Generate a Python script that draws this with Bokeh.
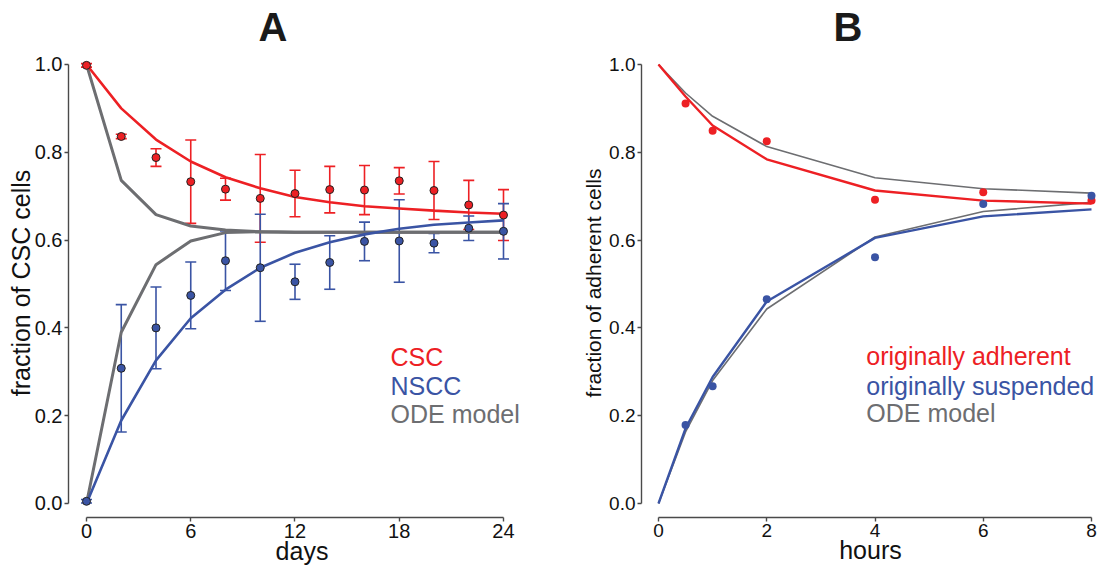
from bokeh.plotting import figure
from bokeh.layouts import row
from bokeh.models import ColumnDataSource, Whisker, TeeHead, FixedTicker, Range1d
from bokeh.embed import file_html
from bokeh.resources import INLINE
from bokeh.core.properties import value

RED = "#ED2024"
BLUE = "#3A54A4"
GREY = "#6D6E71"
AXC = "#4a4a4a"
FONT = "Liberation Sans"

# ---------------- Panel A data ----------------
days = [0, 2, 4, 6, 8, 10, 12, 14, 16, 18, 20, 22, 24]
csc_mean = [0.998, 0.836, 0.788, 0.733, 0.716, 0.695, 0.706, 0.715, 0.714, 0.735, 0.713, 0.680, 0.657]
csc_err = [0.004, 0.005, 0.020, 0.095, 0.025, 0.100, 0.053, 0.053, 0.056, 0.030, 0.066, 0.056, 0.058]
nscc_mean = [0.005, 0.308, 0.400, 0.474, 0.553, 0.537, 0.505, 0.549, 0.597, 0.598, 0.593, 0.627, 0.620]
nscc_err = [0.004, 0.145, 0.093, 0.076, 0.068, 0.122, 0.040, 0.061, 0.044, 0.094, 0.022, 0.028, 0.063]
csc_fit = [1.0, 0.900, 0.829, 0.779, 0.743, 0.718, 0.698, 0.686, 0.677, 0.672, 0.667, 0.663, 0.660]
nscc_fit = [0.0, 0.189, 0.326, 0.422, 0.487, 0.537, 0.571, 0.595, 0.613, 0.626, 0.635, 0.640, 0.645]
ode_a_upper = [1.0, 0.736, 0.658, 0.632, 0.623, 0.619, 0.618, 0.618, 0.618, 0.618, 0.618, 0.618, 0.618]
ode_a_lower = [0.0, 0.390, 0.544, 0.598, 0.617, 0.619, 0.618, 0.618, 0.618, 0.618, 0.618, 0.618, 0.618]
a_xticks = [0, 6, 12, 18, 24]
a_yticks = [0.0, 0.2, 0.4, 0.6, 0.8, 1.0]
a_ytick_labels = ["0.0", "0.2", "0.4", "0.6", "0.8", "1.0"]
a_legend_labels = ["CSC", "NSCC", "ODE model"]

# ---------------- Panel B data ----------------
hours_obs = [0.5, 1, 2, 4, 6, 8]
adh_obs = [0.911, 0.849, 0.825, 0.692, 0.709, 0.690]
sus_obs = [0.179, 0.267, 0.465, 0.561, 0.682, 0.701]
hours_fit = [0, 0.5, 1, 2, 4, 6, 8]
adh_fit = [1.0, 0.927, 0.861, 0.784, 0.713, 0.690, 0.683]
sus_fit = [0.0, 0.171, 0.288, 0.460, 0.605, 0.654, 0.670]
ode_b_upper = [1.0, 0.935, 0.882, 0.813, 0.742, 0.717, 0.707]
ode_b_lower = [0.0, 0.163, 0.280, 0.443, 0.607, 0.665, 0.686]
b_xticks = [0, 2, 4, 6, 8]
b_yticks = [0.0, 0.2, 0.4, 0.6, 0.8, 1.0]
b_ytick_labels = ["0.0", "0.2", "0.4", "0.6", "0.8", "1.0"]
b_legend_labels = ["originally adherent", "originally suspended", "ODE model"]


def style(p, xticks, yticks, ytick_labels, xbounds, xlabel, ylabel,
          ylabel_size, tick_size, ylabel_standoff):
    p.xgrid.visible = False
    p.ygrid.visible = False
    p.outline_line_color = None
    p.background_fill_color = "white"
    p.border_fill_color = "white"
    xa = p.xaxis[0]
    ya = p.yaxis[0]
    xa.ticker = FixedTicker(ticks=xticks)
    ya.ticker = FixedTicker(ticks=yticks)
    ya.major_label_overrides = {t: l for t, l in zip(yticks, ytick_labels)}
    xa.bounds = xbounds
    ya.bounds = (0, 1)
    for ax in (xa, ya):
        ax.axis_line_color = AXC
        ax.axis_line_width = 1.4
        ax.major_tick_line_color = AXC
        ax.major_tick_line_width = 1.4
        ax.major_tick_out = 4
        ax.major_tick_in = 0
        ax.minor_tick_out = 0
        ax.minor_tick_in = 0
        ax.major_label_text_font = FONT
        ax.major_label_text_font_size = tick_size
        ax.major_label_text_color = "#111111"
        ax.major_label_standoff = 2
        ax.axis_label_text_font = FONT
        ax.axis_label_text_font_style = "normal"
        ax.axis_label_text_color = "#111111"
    xa.axis_label = xlabel
    ya.axis_label = ylabel
    xa.axis_label_text_font_size = "25px"
    ya.axis_label_text_font_size = ylabel_size
    xa.axis_label_standoff = -4
    ya.axis_label_standoff = ylabel_standoff


def set_title(p, text, offset):
    p.title.text = text
    p.title.text_font = FONT
    p.title.text_font_size = "40px"
    p.title.text_font_style = "bold"
    p.title.text_color = "#1a1a1a"
    p.title.align = "left"
    p.title.offset = offset
    p.title.standoff = 0


# ---------------- Figure A ----------------
pA = figure(width=545, height=567, output_backend="svg", toolbar_location=None,
            x_range=Range1d(-1.036, 25.842), y_range=Range1d(-0.0319, 1.0364),
            min_border_left=68, min_border_right=10, min_border_top=48,
            min_border_bottom=50)
style(pA, a_xticks, a_yticks, a_ytick_labels, (0, 24), "days",
      "fraction of CSC cells", "25px", "20px", -3)
set_title(pA, "A", 190)

pA.line(days, ode_a_upper, line_color=GREY, line_width=3)
pA.line(days, ode_a_lower, line_color=GREY, line_width=3)
pA.line(days, csc_fit, line_color=RED, line_width=2.6)
pA.line(days, nscc_fit, line_color=BLUE, line_width=2.6)

for mean, err, col in ((csc_mean, csc_err, RED), (nscc_mean, nscc_err, BLUE)):
    src = ColumnDataSource(dict(x=days,
                                lower=[m - e for m, e in zip(mean, err)],
                                upper=[m + e for m, e in zip(mean, err)]))
    w = Whisker(base="x", lower="lower", upper="upper", source=src,
                line_color=col, line_width=1.6,
                upper_head=TeeHead(size=11, line_color=col, line_width=1.6),
                lower_head=TeeHead(size=11, line_color=col, line_width=1.6))
    pA.add_layout(w)

pA.scatter(days, csc_mean, size=8, fill_color=RED, line_color="#222222", line_width=1)
pA.scatter(days, nscc_mean, size=8, fill_color=BLUE, line_color="#222222", line_width=1)

legA = ColumnDataSource(dict(x=[17.5, 17.5, 17.5], y=[0.333, 0.267, 0.204],
                             text=a_legend_labels, color=[RED, BLUE, GREY]))
pA.text(x="x", y="y", text="text", text_color="color", source=legA,
        text_font=value(FONT), text_font_size="25px",
        text_baseline="alphabetic", text_align="left")

# ---------------- Figure B ----------------
pB = figure(width=554, height=567, output_backend="svg", toolbar_location=None,
            x_range=Range1d(-0.3141, 8.1478), y_range=Range1d(-0.0319, 1.0364),
            min_border_left=96, min_border_right=0, min_border_top=48,
            min_border_bottom=50)
style(pB, b_xticks, b_yticks, b_ytick_labels, (0, 8), "hours",
      "fraction of adherent cells", "21px", "19px", 1)
set_title(pB, "B", 192)

pB.line(hours_fit, ode_b_upper, line_color=GREY, line_width=1.6)
pB.line(hours_fit, ode_b_lower, line_color=GREY, line_width=1.6)
pB.line(hours_fit, adh_fit, line_color=RED, line_width=2.4)
pB.line(hours_fit, sus_fit, line_color=BLUE, line_width=2.4)
pB.scatter(hours_obs, adh_obs, size=8, fill_color=RED, line_color=None)
pB.scatter(hours_obs, sus_obs, size=8, fill_color=BLUE, line_color=None)

legB = ColumnDataSource(dict(x=[3.84, 3.84, 3.84], y=[0.335, 0.268, 0.207],
                             text=b_legend_labels, color=[RED, BLUE, GREY]))
pB.text(x="x", y="y", text="text", text_color="color", source=legB,
        text_font=value(FONT), text_font_size="25px",
        text_baseline="alphabetic", text_align="left")

layout = row(pA, pB)
open("out.html", "w").write(file_html(layout, INLINE))
